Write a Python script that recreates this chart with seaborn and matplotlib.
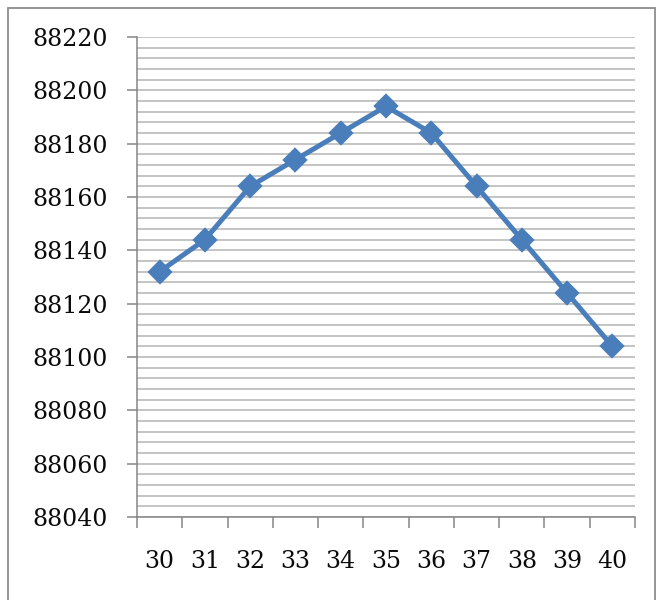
import matplotlib
matplotlib.use("Agg")
import matplotlib.pyplot as plt
from matplotlib.ticker import MultipleLocator, FixedLocator
from matplotlib.patches import Rectangle
import seaborn as sns
import pandas as pd

# Data
categories = ["30", "31", "32", "33", "34", "35", "36", "37", "38", "39", "40"]
values = [88132, 88144, 88164, 88174, 88184, 88194, 88184, 88164, 88144, 88124, 88104]

df = pd.DataFrame({"x": categories, "y": values})

sns.set_theme(style="white")
plt.rcParams["font.family"] = ["DejaVu Serif"]

fig = plt.figure(figsize=(6.59, 6.00), dpi=100)
ax = fig.add_axes([137 / 659, 1 - 517 / 600, (635 - 137) / 659, (517 - 37) / 600])

line_color = "#4A7EBB"
sns.pointplot(data=df, x="x", y="y", order=categories, color=line_color,
              marker="D", markersize=10, linewidth=3.6, errorbar=None, ax=ax)
for ln in ax.lines:
    ln.set_solid_joinstyle("round")
    ln.set_solid_capstyle("round")
    ln.set_zorder(5)

ax.set_xlim(-0.5, len(categories) - 0.5)
ax.set_ylim(88040, 88220)
ax.set_xlabel("")
ax.set_ylabel("")

# Y axis: labelled every 20, gridlines every 4
ax.yaxis.set_major_locator(MultipleLocator(20))
ax.yaxis.set_minor_locator(MultipleLocator(4))
ax.grid(True, axis="y", which="both", color="#BABABA", linewidth=1.2)
ax.grid(False, axis="x")
ax.set_axisbelow(True)

# X axis: labels at category centres, tick marks at category edges
ax.xaxis.set_minor_locator(FixedLocator([i - 0.5 for i in range(len(categories) + 1)]))
ax.tick_params(axis="x", which="major", length=0, pad=24, labelsize=17, labelcolor="#0A0A0A")
ax.tick_params(axis="x", which="minor", length=8, width=1.1, color="#868686", direction="out", bottom=True)
ax.tick_params(axis="y", which="major", length=7, width=1.1, color="#868686", direction="out",
               left=True, pad=14, labelsize=17, labelcolor="#0A0A0A")
ax.tick_params(axis="y", which="minor", length=0)

for side in ["top", "right"]:
    ax.spines[side].set_visible(False)
for side in ["left", "bottom"]:
    ax.spines[side].set_visible(True)
    ax.spines[side].set_color("#868686")
    ax.spines[side].set_linewidth(1.1)

# Chart frame
frame = Rectangle((7.5 / 659, -0.01), (655 - 7.5) / 659, 1 - 7.5 / 600 + 0.01,
                  transform=fig.transFigure, fill=False, edgecolor="#8C8C8C", linewidth=1.3)
fig.patches.append(frame)

fig.savefig("out.png", dpi=100)
